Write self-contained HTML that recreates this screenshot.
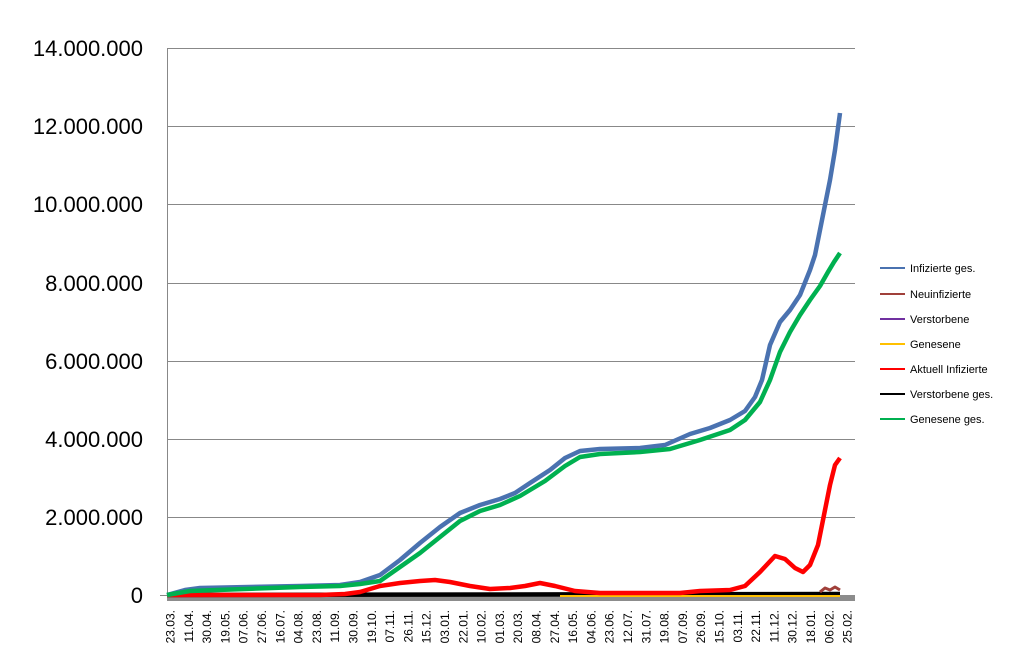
<!DOCTYPE html>
<html><head><meta charset="utf-8"><style>body{margin:0;background:#fff}svg{display:block}</style></head><body>
<svg width="1016" height="660" xmlns="http://www.w3.org/2000/svg" font-family="Liberation Sans, sans-serif">
<g stroke="#888" stroke-width="1">
<line x1="167" y1="48.5" x2="855" y2="48.5"/><line x1="167" y1="126.5" x2="855" y2="126.5"/>
<line x1="167" y1="204.5" x2="855" y2="204.5"/><line x1="167" y1="283.5" x2="855" y2="283.5"/>
<line x1="167" y1="361.5" x2="855" y2="361.5"/><line x1="167" y1="439.5" x2="855" y2="439.5"/>
<line x1="167" y1="517.5" x2="855" y2="517.5"/><line x1="160" y1="595.5" x2="167" y2="595.5"/>
<line x1="167.5" y1="48" x2="167.5" y2="596"/>
</g>
<rect x="167" y="595" width="688" height="6" fill="#8c8c8c"/>
<g font-size="22" text-anchor="end" fill="#000">
<text x="143" y="56">14.000.000</text><text x="143" y="134">12.000.000</text>
<text x="143" y="212">10.000.000</text><text x="143" y="291">8.000.000</text>
<text x="143" y="369">6.000.000</text><text x="143" y="447">4.000.000</text>
<text x="143" y="525">2.000.000</text><text x="143" y="603">0</text>
</g>
<g fill="none" stroke-width="4.5" stroke-linejoin="round">
<polyline stroke="#000" points="167,595 840,594"/>
<polyline stroke="#ffc000" stroke-width="2" points="560,596 840,596"/>
<polyline stroke="#a0403a" stroke-width="3" points="820,592 825,588 830,590 835,587 840,590"/>
<polyline stroke="#ff0000" points="167,595 320,595 345,594 360,592 380,586 400,583 420,581 435,580 450,582 470,586 490,589 510,588 525,586 540,583 555,586 575,591 600,593 680,593 700,591 730,590 745,586 760,572 775,556 785,559 795,568 803,572 810,565 818,545 825,510 830,485 835,465 840,458"/>
<polyline stroke="#4a72b0" points="167,595 185,590 200,588 300,586 340,585 360,582 380,575 400,560 420,543 440,527 460,513 480,505 500,499 515,493 530,483 550,470 565,458 580,451 600,449 640,448 665,445 690,434 710,428 730,420 745,411 755,397 762,380 770,345 780,322 790,310 800,295 810,270 815,255 820,230 825,205 830,180 835,150 840,113"/>
<polyline stroke="#00b050" points="167,595 190,591 300,587 340,586 360,584 380,581 400,567 420,553 440,537 460,521 480,511 500,505 520,496 545,481 565,466 580,457 600,454 640,452 670,449 700,440 730,430 745,420 760,402 770,380 780,352 790,332 800,315 810,300 820,286 828,272 834,262 840,253"/>
</g>
<g font-size="11" fill="#000">
<line x1="880" y1="268" x2="905" y2="268" stroke="#4a72b0" stroke-width="2"/><text x="910" y="272">Infizierte ges.</text>
<line x1="880" y1="294" x2="905" y2="294" stroke="#a0403a" stroke-width="2"/><text x="910" y="298">Neuinfizierte</text>
<line x1="880" y1="319" x2="905" y2="319" stroke="#7030a0" stroke-width="2"/><text x="910" y="323">Verstorbene</text>
<line x1="880" y1="344" x2="905" y2="344" stroke="#ffc000" stroke-width="2"/><text x="910" y="348">Genesene</text>
<line x1="880" y1="369" x2="905" y2="369" stroke="#ff0000" stroke-width="2"/><text x="910" y="373">Aktuell Infizierte</text>
<line x1="880" y1="394" x2="905" y2="394" stroke="#000" stroke-width="2"/><text x="910" y="398">Verstorbene ges.</text>
<line x1="880" y1="419" x2="905" y2="419" stroke="#00b050" stroke-width="2"/><text x="910" y="423">Genesene ges.</text>
</g>
<g font-size="12" fill="#000" text-anchor="end">
<text transform="translate(174.5,610) rotate(-90)">23.03.</text>
<text transform="translate(192.8,610) rotate(-90)">11.04.</text>
<text transform="translate(211.1,610) rotate(-90)">30.04.</text>
<text transform="translate(229.4,610) rotate(-90)">19.05.</text>
<text transform="translate(247.7,610) rotate(-90)">07.06.</text>
<text transform="translate(266.0,610) rotate(-90)">27.06.</text>
<text transform="translate(284.3,610) rotate(-90)">16.07.</text>
<text transform="translate(302.6,610) rotate(-90)">04.08.</text>
<text transform="translate(320.9,610) rotate(-90)">23.08.</text>
<text transform="translate(339.2,610) rotate(-90)">11.09.</text>
<text transform="translate(357.5,610) rotate(-90)">30.09.</text>
<text transform="translate(375.8,610) rotate(-90)">19.10.</text>
<text transform="translate(394.1,610) rotate(-90)">07.11.</text>
<text transform="translate(412.4,610) rotate(-90)">26.11.</text>
<text transform="translate(430.7,610) rotate(-90)">15.12.</text>
<text transform="translate(449.0,610) rotate(-90)">03.01.</text>
<text transform="translate(467.3,610) rotate(-90)">22.01.</text>
<text transform="translate(485.6,610) rotate(-90)">10.02.</text>
<text transform="translate(503.9,610) rotate(-90)">01.03.</text>
<text transform="translate(522.2,610) rotate(-90)">20.03.</text>
<text transform="translate(540.5,610) rotate(-90)">08.04.</text>
<text transform="translate(558.8,610) rotate(-90)">27.04.</text>
<text transform="translate(577.1,610) rotate(-90)">16.05.</text>
<text transform="translate(595.4,610) rotate(-90)">04.06.</text>
<text transform="translate(613.7,610) rotate(-90)">23.06.</text>
<text transform="translate(632.0,610) rotate(-90)">12.07.</text>
<text transform="translate(650.3,610) rotate(-90)">31.07.</text>
<text transform="translate(668.6,610) rotate(-90)">19.08.</text>
<text transform="translate(686.9,610) rotate(-90)">07.09.</text>
<text transform="translate(705.2,610) rotate(-90)">26.09.</text>
<text transform="translate(723.5,610) rotate(-90)">15.10.</text>
<text transform="translate(741.8,610) rotate(-90)">03.11.</text>
<text transform="translate(760.1,610) rotate(-90)">22.11.</text>
<text transform="translate(778.4,610) rotate(-90)">11.12.</text>
<text transform="translate(796.7,610) rotate(-90)">30.12.</text>
<text transform="translate(815.0,610) rotate(-90)">18.01.</text>
<text transform="translate(833.3,610) rotate(-90)">06.02.</text>
<text transform="translate(851.6,610) rotate(-90)">25.02.</text>
</g>
</svg>
</body></html>
